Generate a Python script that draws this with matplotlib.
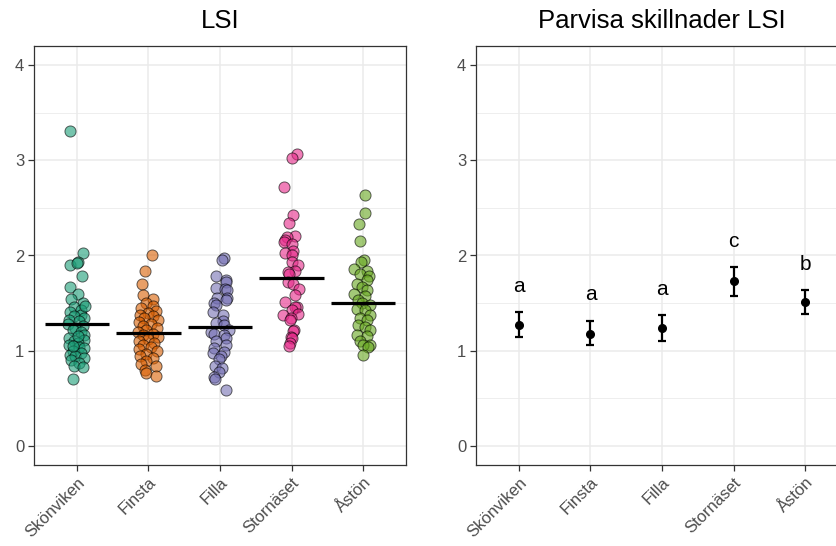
import matplotlib
matplotlib.use("Agg")
import matplotlib.pyplot as plt
from matplotlib.ticker import MultipleLocator
import numpy as np

plt.rcParams['font.family'] = ['Liberation Sans', 'DejaVu Sans']

sites = ["Skönviken", "Finsta", "Filla", "Stornäset", "Åstön"]
colors = ["#1B9E77", "#D95F02", "#7570B3", "#E7298A", "#66A61E"]

# LSI per individual (value, horizontal jitter offset)
lsi_skonviken = [3.31, 2.03, 1.90, 1.93, 1.92, 1.78, 1.67, 1.60, 1.54, 1.50, 1.46, 1.43, 1.41,
                 1.38, 1.36, 1.34, 1.32, 1.31, 1.28, 1.26, 1.24, 1.22, 1.20, 1.17, 1.13, 1.11,
                 1.10, 1.08, 1.06, 1.04, 1.03, 1.00, 0.98, 0.96, 0.94, 0.92, 0.90, 0.87, 0.84,
                 0.83, 0.70, 1.15, 1.05, 1.47]
jit_skonviken = [-0.09, 0.08, -0.10, 0.01, 0.00, 0.07, -0.10, 0.02, -0.08, 0.08, -0.04, 0.06, -0.09,
                 0.05, -0.04, 0.10, -0.11, 0.03, -0.12, 0.08, -0.02, -0.06, 0.06, 0.10, -0.11, 0.10,
                 -0.04, 0.02, -0.11, 0.03, 0.10, -0.06, 0.06, -0.10, -0.02, 0.10, -0.08, 0.03, -0.04,
                 0.08, -0.05, 0.01, -0.06, 0.11]

lsi_finsta = [2.01, 1.84, 1.70, 1.58, 1.54, 1.50, 1.47, 1.45, 1.42, 1.40, 1.38, 1.36, 1.34,
              1.32, 1.30, 1.28, 1.26, 1.24, 1.22, 1.20, 1.18, 1.16, 1.14, 1.12, 1.10, 1.08,
              1.06, 1.04, 1.02, 1.00, 0.97, 0.94, 0.92, 0.89, 0.86, 0.84, 0.80, 0.77, 0.73]
jit_finsta = [0.05, -0.05, -0.09, -0.08, 0.06, -0.03, 0.07, -0.10, 0.11, 0.00, -0.12, 0.07, -0.06,
              0.13, -0.13, 0.04, -0.08, 0.12, -0.03, -0.15, 0.07, -0.08, 0.13, -0.01, -0.13, 0.08,
              -0.07, 0.04, -0.13, 0.12, -0.04, -0.12, 0.07, -0.03, -0.11, 0.11, -0.05, -0.03, 0.11]

lsi_filla = [1.97, 1.95, 1.78, 1.74, 1.72, 1.66, 1.65, 1.64, 1.55, 1.55, 1.53, 1.50, 1.48, 1.41,
             1.38, 1.31, 1.29, 1.27, 1.22, 1.20, 1.18, 1.17, 1.13, 1.10, 1.06, 1.03, 0.99, 0.98,
             0.94, 0.91, 0.84, 0.82, 0.78, 0.72, 0.70, 0.59]
jit_filla = [0.05, 0.03, -0.06, 0.09, 0.08, -0.05, 0.07, 0.10, 0.10, -0.04, 0.08, -0.08, -0.06, -0.10,
             0.04, 0.04, -0.05, 0.05, 0.12, -0.12, -0.09, 0.05, 0.09, -0.05, 0.09, -0.08, 0.06, -0.10,
             0.02, -0.02, -0.07, 0.03, -0.02, -0.08, -0.07, 0.09]

lsi_stornaset = [3.07, 3.02, 2.72, 2.43, 2.34, 2.21, 2.19, 2.16, 2.14, 2.12, 2.05, 2.03, 2.00,
                 1.93, 1.90, 1.84, 1.83, 1.81, 1.72, 1.70, 1.65, 1.58, 1.51, 1.46, 1.46, 1.43,
                 1.39, 1.375, 1.34, 1.32, 1.22, 1.21, 1.14, 1.13, 1.08, 1.05]
jit_stornaset = [0.07, 0.01, -0.10, 0.02, -0.04, 0.05, -0.06, -0.09, -0.11, 0.00, 0.02, -0.09, 0.01,
                 0.00, 0.09, 0.05, -0.05, -0.04, -0.05, 0.02, 0.10, 0.05, -0.09, 0.07, 0.05, 0.00,
                 0.09, -0.12, -0.01, -0.02, 0.04, 0.02, -0.01, 0.00, -0.02, -0.03]

lsi_aston = [2.64, 2.45, 2.33, 2.15, 1.95, 1.93, 1.86, 1.84, 1.81, 1.78, 1.74, 1.70, 1.67, 1.64,
             1.60, 1.57, 1.53, 1.50, 1.48, 1.44, 1.43, 1.375, 1.34, 1.32, 1.27, 1.25, 1.22, 1.17,
             1.15, 1.10, 1.06, 1.06, 1.04, 0.96]
jit_aston = [0.03, 0.03, -0.06, -0.05, 0.01, -0.03, -0.12, 0.05, -0.04, 0.08, 0.05, -0.09, -0.02, 0.05,
             -0.12, 0.02, -0.07, -0.02, 0.09, -0.09, 0.02, 0.09, -0.04, 0.05, -0.07, 0.03, 0.09, -0.09,
             0.05, -0.04, 0.09, 0.00, 0.07, 0.00]

lsi_values = [lsi_skonviken, lsi_finsta, lsi_filla, lsi_stornaset, lsi_aston]
lsi_jitter = [jit_skonviken, jit_finsta, jit_filla, jit_stornaset, jit_aston]

# Group means shown as horizontal bars
group_means = [1.278, 1.184, 1.247, 1.764, 1.503]

# Estimated means with confidence limits and significance letters
est_mean = [1.268, 1.180, 1.240, 1.729, 1.510]
est_lower = [1.139, 1.055, 1.104, 1.576, 1.382]
est_upper = [1.403, 1.316, 1.375, 1.878, 1.639]
letters = ["a", "a", "a", "c", "b"]

fig = plt.figure(figsize=(8.36, 5.46), dpi=100)
ax1 = fig.add_axes([34 / 836, 1 - 465 / 546, 372 / 836, 419 / 546])
ax2 = fig.add_axes([476 / 836, 1 - 465 / 546, 372 / 836, 419 / 546])

grid_col = "#EBEBEB"
border_col = "#333333"
tick_col = "#4D4D4D"


def style_axes(ax, title):
    ax.set_xlim(0.4, 5.6)
    ax.set_ylim(-0.2, 4.2)
    ax.yaxis.set_major_locator(MultipleLocator(1))
    ax.yaxis.set_minor_locator(MultipleLocator(0.5))
    ax.set_xticks(range(1, 6))
    ax.set_xticklabels(sites, rotation=45, ha="right", va="top",
                       rotation_mode="anchor", color=tick_col, fontsize=12)
    for lab in ax.get_yticklabels():
        lab.set_color(tick_col)
        lab.set_fontsize(12)
    ax.grid(True, which="major", color=grid_col, linewidth=1.1, zorder=0)
    ax.grid(True, which="minor", axis="y", color=grid_col, linewidth=0.6, zorder=0)
    ax.tick_params(which="minor", length=0)
    ax.tick_params(which="major", length=4, width=0.9, color=border_col, pad=3)
    ax.set_axisbelow(True)
    for sp in ax.spines.values():
        sp.set_color(border_col)
        sp.set_linewidth(0.9)
    ax.set_title(title, fontsize=18.5, pad=13, color="black")


style_axes(ax1, "LSI")
style_axes(ax2, "Parvisa skillnader LSI")

for i, (vals, jit) in enumerate(zip(lsi_values, lsi_jitter)):
    xs = (i + 1) + np.asarray(jit)
    ax1.scatter(xs, vals, s=64, facecolor=colors[i], edgecolor="black",
                linewidth=0.7, alpha=0.6, zorder=3)

for i, m in enumerate(group_means):
    ax1.hlines(m, i + 1 - 0.45, i + 1 + 0.45, color="black", linewidth=2.3, zorder=4)

xpos = np.arange(1, 6)
yerr = [np.subtract(est_mean, est_lower), np.subtract(est_upper, est_mean)]
ax2.errorbar(xpos, est_mean, yerr=yerr, fmt="o", color="black", markersize=5.5,
             elinewidth=1.6, capsize=3, capthick=1.6, zorder=3)
for i, lab in enumerate(letters):
    ax2.text(xpos[i], est_upper[i] + 0.27, lab, ha="center", va="center",
             fontsize=15, color="black")

fig.savefig("out.png", dpi=100)
